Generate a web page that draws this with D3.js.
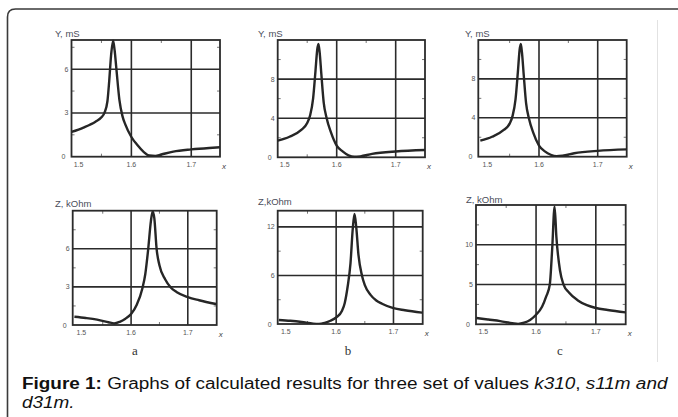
<!DOCTYPE html>
<html>
<head>
<meta charset="utf-8">
<script src="https://cdn.jsdelivr.net/npm/d3@7"></script>
<style>
  body { margin: 0; background: #fff; }
  svg { display: block; }
</style>
</head>
<body>
<svg id="chart" width="678" height="417"></svg>
<script>
// ---- values ----
var xTicks = [1.5, 1.6, 1.7];
var xTickLabels = ["1.5", "1.6", "1.7"];
var xMinor = [1.55, 1.65];

var yTicksA = [0, 3, 6], yTicksB = [0, 4, 8], yTicksC = [0, 4, 8];
var zTicksA = [0, 3, 6], zTicksB = [0, 6, 12], zTicksC = [0, 5, 10];
var yTopA = 8, yTopB = 12, yTopC = 12;
var zTopA = 9, zTopB = 14, zTopC = 15;

// admittance Y, mS
var admA_x = [1.50, 1.52, 1.54, 1.55, 1.555, 1.56, 1.563, 1.566, 1.5695, 1.572, 1.575, 1.58, 1.585, 1.59, 1.60, 1.61, 1.62, 1.63, 1.64, 1.65, 1.67, 1.70, 1.73, 1.75];
var admA_y = [1.7, 2.0, 2.4, 2.7, 3.0, 3.8, 5.2, 6.9, 7.95, 7.3, 6.0, 3.9, 2.8, 2.2, 1.35, 0.8, 0.35, 0.08, 0.05, 0.15, 0.35, 0.5, 0.6, 0.65];

var admB_x = [1.50, 1.52, 1.54, 1.55, 1.555, 1.56, 1.564, 1.567, 1.569, 1.571, 1.574, 1.578, 1.583, 1.59, 1.60, 1.61, 1.62, 1.63, 1.64, 1.66, 1.70, 1.75];
var admB_y = [1.7, 2.1, 2.8, 3.5, 4.3, 6.0, 8.8, 11.0, 11.6, 10.8, 8.5, 5.6, 4.0, 2.6, 1.2, 0.6, 0.2, 0.05, 0.1, 0.35, 0.6, 0.75];

var admC_x = [1.50, 1.52, 1.54, 1.55, 1.555, 1.56, 1.564, 1.567, 1.569, 1.571, 1.574, 1.578, 1.583, 1.59, 1.60, 1.61, 1.62, 1.63, 1.64, 1.66, 1.70, 1.75];
var admC_y = [1.65, 2.05, 2.75, 3.4, 4.2, 5.9, 8.7, 11.0, 11.6, 10.7, 8.4, 5.5, 3.9, 2.5, 1.15, 0.55, 0.2, 0.05, 0.1, 0.35, 0.6, 0.75];

// impedance Z, kOhm
var impA_x = [1.50, 1.52, 1.54, 1.56, 1.57, 1.58, 1.59, 1.60, 1.61, 1.62, 1.625, 1.63, 1.635, 1.638, 1.641, 1.645, 1.65, 1.66, 1.67, 1.68, 1.70, 1.72, 1.75];
var impA_y = [0.65, 0.55, 0.42, 0.22, 0.12, 0.25, 0.5, 0.87, 1.6, 2.9, 4.0, 5.9, 8.2, 8.95, 8.4, 6.0, 4.7, 3.6, 2.95, 2.6, 2.2, 1.95, 1.65];

var impB_x = [1.50, 1.52, 1.54, 1.56, 1.57, 1.58, 1.59, 1.60, 1.61, 1.615, 1.62, 1.625, 1.629, 1.632, 1.635, 1.639, 1.645, 1.65, 1.66, 1.67, 1.68, 1.70, 1.72, 1.75];
var impB_y = [0.5, 0.4, 0.25, 0.05, 0.02, 0.15, 0.4, 0.8, 1.6, 2.6, 4.6, 7.5, 11.8, 13.6, 12.0, 8.5, 6.0, 4.8, 3.6, 2.9, 2.5, 1.95, 1.7, 1.4];

var impC_x = [1.50, 1.52, 1.54, 1.56, 1.57, 1.58, 1.59, 1.60, 1.61, 1.617, 1.623, 1.627, 1.631, 1.634, 1.64, 1.646, 1.655, 1.67, 1.685, 1.70, 1.72, 1.75];
var impC_y = [0.8, 0.6, 0.4, 0.15, 0.05, 0.2, 0.55, 1.2, 2.2, 3.5, 5.0, 9.5, 14.8, 11.0, 6.8, 5.0, 4.0, 3.0, 2.4, 2.05, 1.8, 1.5];

// ---- layout ----
var panels = [
  { l: 71.5, r: 220, t: 40, b: 156.7, xd: [1.5, 1.748], top: yTopA, ticks: yTicksA, xs: admA_x, ys: admA_y, title: "Y, mS", tx: 55, ty: 37 },
  { l: 277.7, r: 425, t: 40, b: 157.3, xd: [1.5, 1.7497], top: yTopB, ticks: yTicksB, xs: admB_x, ys: admB_y, title: "Y, mS", tx: 258, ty: 37 },
  { l: 478.3, r: 626.7, t: 40, b: 156.7, xd: [1.4966, 1.7494], top: yTopC, ticks: yTicksC, xs: admC_x, ys: admC_y, title: "Y, mS", tx: 465, ty: 37 },
  { l: 72.7, r: 216.7, t: 210.7, b: 325, xd: [1.497, 1.751], top: zTopA, ticks: zTicksA, xs: impA_x, ys: impA_y, title: "Z, kOhm", tx: 55, ty: 207, sub: "a", sx: 135 },
  { l: 277.7, r: 422.7, t: 210.7, b: 324, xd: [1.498, 1.751], top: zTopB, ticks: zTicksB, xs: impB_x, ys: impB_y, title: "Z,kOhm", tx: 258, ty: 205, sub: "b", sx: 348 },
  { l: 476, r: 625.7, t: 205, b: 324.3, xd: [1.4995, 1.75], top: zTopC, ticks: zTicksC, xs: impC_x, ys: impC_y, title: "Z, kOhm", tx: 466, ty: 203, sub: "c", sx: 560 }
];

var svg = d3.select("#chart");
var ink = "#2b2b2b";

// figure frame with rounded top-left corner
svg.append("path")
   .attr("d", "M7.5,417 L7.5,17 Q7.5,9 15.5,9 L678,9")
   .attr("fill", "none").attr("stroke", "#3a3a3a").attr("stroke-width", 1.6);

svg.append("line")
   .attr("x1", 657.5).attr("x2", 657.5).attr("y1", 20).attr("y2", 362)
   .attr("stroke", "#e2e2e2").attr("stroke-width", 1);

var defs = svg.append("defs");

panels.forEach(function(p, i) {
  var x = d3.scaleLinear().domain(p.xd).range([p.l, p.r]);
  var y = d3.scaleLinear().domain([0, p.top]).range([p.b, p.t]);
  var g = svg.append("g");

  defs.append("clipPath").attr("id", "clip" + i)
      .append("rect").attr("x", p.l).attr("y", p.t - 1)
      .attr("width", p.r - p.l).attr("height", p.b - p.t + 1);

  // minor ticks on all four sides
  var yMinor = p.ticks.map(function(d, k) {
    return k < p.ticks.length - 1 ? (d + p.ticks[k + 1]) / 2 : d + (p.ticks[1] - p.ticks[0]) / 2;
  }).filter(function(d) { return d < p.top; });
  xMinor.forEach(function(v) {
    g.append("line").attr("x1", x(v)).attr("x2", x(v)).attr("y1", p.t).attr("y2", p.t + 3)
     .attr("stroke", "#777").attr("stroke-width", 1);
    g.append("line").attr("x1", x(v)).attr("x2", x(v)).attr("y1", p.b).attr("y2", p.b - 3)
     .attr("stroke", "#777").attr("stroke-width", 1);
  });
  yMinor.forEach(function(v) {
    g.append("line").attr("x1", p.l).attr("x2", p.l + 3).attr("y1", y(v)).attr("y2", y(v))
     .attr("stroke", "#777").attr("stroke-width", 1);
    g.append("line").attr("x1", p.r).attr("x2", p.r - 3).attr("y1", y(v)).attr("y2", y(v))
     .attr("stroke", "#777").attr("stroke-width", 1);
  });

  // grid lines
  g.selectAll(".vg").data(xTicks.slice(1)).enter().append("line")
   .attr("x1", function(d) { return x(d); }).attr("x2", function(d) { return x(d); })
   .attr("y1", p.t).attr("y2", p.b)
   .attr("stroke", ink).attr("stroke-width", 1.6);
  g.selectAll(".hg").data(p.ticks.slice(1)).enter().append("line")
   .attr("x1", p.l).attr("x2", p.r)
   .attr("y1", function(d) { return y(d); }).attr("y2", function(d) { return y(d); })
   .attr("stroke", ink).attr("stroke-width", 1.6);

  // frame
  g.append("rect").attr("x", p.l).attr("y", p.t)
   .attr("width", p.r - p.l).attr("height", p.b - p.t)
   .attr("fill", "none").attr("stroke", ink).attr("stroke-width", 1.8);

  // curve
  var pts = p.xs.map(function(v, k) { return [v, p.ys[k]]; });
  var line = d3.line()
    .x(function(d) { return x(d[0]); })
    .y(function(d) { return y(d[1]); })
    .curve(d3.curveMonotoneX);
  g.append("path").datum(pts)
   .attr("d", line)
   .attr("clip-path", "url(#clip" + i + ")")
   .attr("fill", "none").attr("stroke", "#262626").attr("stroke-width", 2.4)
   .attr("stroke-linejoin", "round");

  // tick labels
  g.selectAll(".yl").data(p.ticks).enter().append("text")
   .attr("x", function(d) { return d === 0 ? p.l - 6 : p.l - 3; })
   .attr("y", function(d) { return y(d) + 2.5; })
   .attr("text-anchor", "end")
   .attr("font-family", "Liberation Sans, Arial, sans-serif")
   .attr("font-size", 7).attr("fill", "#555")
   .text(function(d) { return d; });
  g.selectAll(".xl").data(xTicks).enter().append("text")
   .attr("x", function(d, k) { return k === 0 ? x(d) + 7 : x(d); })
   .attr("y", p.b + 10)
   .attr("text-anchor", "middle")
   .attr("font-family", "Liberation Sans, Arial, sans-serif")
   .attr("font-size", 7).attr("fill", "#555")
   .text(function(d, k) { return xTickLabels[k]; });
  g.append("text")
   .attr("x", p.r + 2).attr("y", p.b + 12)
   .attr("font-family", "Liberation Sans, Arial, sans-serif")
   .attr("font-style", "italic")
   .attr("font-size", 8).attr("fill", "#444")
   .text("x");

  // axis title
  g.append("text")
   .attr("x", p.tx).attr("y", p.ty)
   .attr("font-family", "Liberation Sans, Arial, sans-serif")
   .attr("font-size", 9.5).attr("fill", "#4a4d5a")
   .text(p.title);

  if (p.sub) {
    g.append("text")
     .attr("x", p.sx).attr("y", 355)
     .attr("text-anchor", "middle")
     .attr("font-family", "Liberation Serif, Times New Roman, serif")
     .attr("font-size", 13).attr("fill", "#333")
     .text(p.sub);
  }
});

// caption: first line spans 22..668 in the source
var capFont = "Liberation Sans, Arial, sans-serif";
var capG = svg.append("g");
var cap = capG.append("text")
  .attr("x", 0).attr("y", 0)
  .attr("font-family", capFont)
  .attr("font-size", 16).attr("fill", "#111");
cap.append("tspan").attr("font-weight", "bold").text("Figure 1:");
cap.append("tspan").text(" Graphs of calculated results for three set of values ");
cap.append("tspan").attr("font-style", "italic").text("k310");
cap.append("tspan").text(", ");
cap.append("tspan").attr("font-style", "italic").text("s11m and");

var sx = (668 - 22) / cap.node().getComputedTextLength();
capG.attr("transform", "translate(22,389) scale(" + sx + ",1)");

capG.append("text")
  .attr("x", 0).attr("y", 19)
  .attr("font-family", capFont)
  .attr("font-size", 16).attr("font-style", "italic").attr("fill", "#111")
  .text("d31m.");
</script>
</body>
</html>
